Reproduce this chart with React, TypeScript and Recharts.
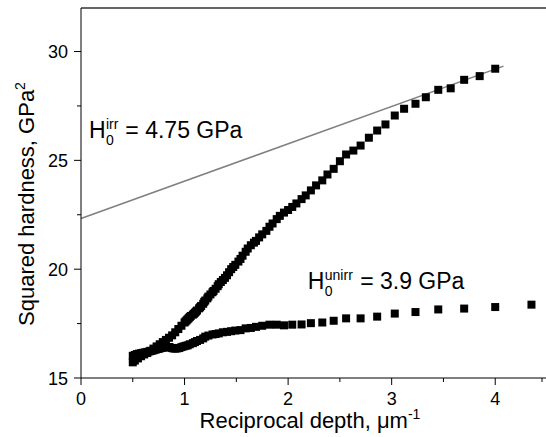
import { ScatterChart, Scatter, XAxis, YAxis, ReferenceLine, ReferenceDot } from 'recharts';

// Squared hardness vs reciprocal indentation depth (Nix–Gao plot), irradiated vs unirradiated.

const FONT = '"Liberation Sans", Arial, sans-serif';

const irrX = [
  4.0, 3.85, 3.7, 3.57, 3.45, 3.33, 3.23, 3.12, 3.03, 2.94,
  2.86, 2.78, 2.7, 2.63, 2.56, 2.5, 2.44, 2.38, 2.33, 2.27,
  2.22, 2.17, 2.13, 2.08, 2.04, 2.0, 1.96, 1.92, 1.89, 1.85,
  1.82, 1.79, 1.75, 1.72, 1.69, 1.67, 1.64, 1.61, 1.59, 1.56,
  1.54, 1.52, 1.49, 1.47, 1.45, 1.43, 1.41, 1.39, 1.37, 1.35,
  1.33, 1.32, 1.3, 1.28, 1.27, 1.25, 1.23, 1.22, 1.2, 1.19,
  1.18, 1.16, 1.15, 1.14, 1.12, 1.11, 1.1, 1.09, 1.08, 1.06,
  1.05, 1.04, 1.03, 1.02, 1.01, 1.0, 0.97, 0.94, 0.91, 0.88,
  0.85, 0.82, 0.79, 0.76, 0.73, 0.7, 0.67, 0.64, 0.61, 0.58,
  0.55, 0.52, 0.5,
];
const irrY = [
  29.21, 28.87, 28.7, 28.31, 28.24, 27.9, 27.6, 27.37, 27.06, 26.65,
  26.37, 26.04, 25.68, 25.45, 25.27, 24.96, 24.61, 24.35, 24.08, 23.85,
  23.62, 23.39, 23.22, 23.02, 22.86, 22.72, 22.6, 22.45, 22.3, 22.1,
  21.95, 21.76, 21.6, 21.46, 21.3, 21.22, 21.1, 20.95, 20.8, 20.62,
  20.47, 20.35, 20.2, 20.1, 20.0, 19.86, 19.72, 19.6, 19.5, 19.41,
  19.31, 19.22, 19.1, 19.0, 18.94, 18.84, 18.74, 18.66, 18.56, 18.5,
  18.41, 18.31, 18.25, 18.2, 18.1, 18.05, 18.0, 17.95, 17.91, 17.85,
  17.8, 17.75, 17.7, 17.65, 17.6, 17.55, 17.4, 17.25, 17.1, 16.96,
  16.85, 16.75, 16.65, 16.55, 16.45, 16.35, 16.25, 16.15, 16.08, 16.0,
  15.9, 15.8, 15.72,
];

const unirrX = [
  4.35, 4.0, 3.7, 3.45, 3.23, 3.03, 2.86, 2.7, 2.56, 2.44,
  2.33, 2.22, 2.13, 2.04, 1.96, 1.89, 1.82, 1.75, 1.69, 1.64,
  1.59, 1.54, 1.49, 1.45, 1.41, 1.37, 1.33, 1.3, 1.27, 1.23,
  1.2, 1.18, 1.15, 1.12, 1.1, 1.08, 1.05, 1.03, 1.01, 0.99,
  0.97, 0.95, 0.93, 0.91, 0.89, 0.88, 0.86, 0.85, 0.83, 0.82,
  0.8, 0.79, 0.78, 0.76, 0.75, 0.74, 0.72, 0.7, 0.68, 0.66,
  0.64, 0.62, 0.6, 0.58, 0.56, 0.54, 0.52, 0.5,
];
const unirrY = [
  18.37, 18.26, 18.19, 18.15, 18.03, 17.96, 17.82, 17.74, 17.74, 17.63,
  17.55, 17.52, 17.46, 17.45, 17.42, 17.45, 17.45, 17.4, 17.35, 17.3,
  17.28, 17.2, 17.18, 17.15, 17.12, 17.1, 17.05, 17.02, 17.0, 16.95,
  16.9, 16.82, 16.75, 16.7, 16.65, 16.6, 16.55, 16.5, 16.48, 16.45,
  16.42, 16.38, 16.36, 16.35, 16.36, 16.38, 16.4, 16.42, 16.42, 16.44,
  16.42, 16.4, 16.38, 16.36, 16.35, 16.33, 16.3, 16.27, 16.24, 16.22,
  16.2, 16.18, 16.16, 16.14, 16.12, 16.1, 16.06, 16.02,
];

// linear fit for the irradiated curve
const fitX = [0, 4.08];
const fitY = [22.33, 29.33];

const xTicks = [0, 0.5, 1, 1.5, 2, 2.5, 3, 3.5, 4, 4.5];
const yTicks = [15, 17.5, 20, 22.5, 25, 27.5, 30];

const toPoints = (xs: number[], ys: number[]) => xs.map((x, i) => ({ x, y: ys[i] }));
const irrData = toPoints(irrX, irrY);
const unirrData = toPoints(unirrX, unirrY);

const Square = (props: any) => (
  <rect x={props.cx - 4} y={props.cy - 4} width={8} height={8} fill="#000" />
);

const XTick = ({ x, y, payload }: any) => {
  const major = Number.isInteger(payload.value);
  return (
    <g>
      <line x1={x} x2={x} y1={y} y2={y + (major ? 7 : 4)} stroke="#000" />
      {major && (
        <text x={x} y={y + 27} textAnchor="middle" fontSize={18} fontFamily={FONT} fill="#000">
          {payload.value}
        </text>
      )}
    </g>
  );
};

const YTick = ({ x, y, payload }: any) => {
  const major = payload.value % 5 === 0;
  return (
    <g>
      <line x1={x} x2={x - (major ? 7 : 4)} y1={y} y2={y} stroke="#000" />
      {major && (
        <text x={x - 13} y={y + 6.5} textAnchor="end" fontSize={18} fontFamily={FONT} fill="#000">
          {payload.value}
        </text>
      )}
    </g>
  );
};

const XTitle = ({ viewBox }: any) => (
  <text x={viewBox.x + viewBox.width / 2 - 4} y={428} textAnchor="middle" fontSize={22} fontFamily={FONT} fill="#000">
    Reciprocal depth, μm
    <tspan dy={-9} fontSize={14}>-1</tspan>
  </text>
);

const YTitle = () => {
  const cx = 34;
  const cy = 204;
  return (
    <text x={cx} y={cy} transform={`rotate(-90, ${cx}, ${cy})`} textAnchor="middle" fontSize={22} fontFamily={FONT} fill="#000">
      Squared hardness, GPa
      <tspan dy={-9} fontSize={14}>2</tspan>
    </text>
  );
};

// H with stacked superscript/subscript, then the rest of the label
const Annot = (sup: string, supW: number, rest: string) => (props: any) => {
  const { cx, cy } = props;
  return (
    <g fontFamily={FONT} fill="#000">
      <text x={cx} y={cy} fontSize={23}>H</text>
      <text x={cx + 17} y={cy - 9} fontSize={14}>{sup}</text>
      <text x={cx + 17} y={cy + 7} fontSize={14}>0</text>
      <text x={cx + 17 + supW} y={cy} fontSize={23}>{rest}</text>
    </g>
  );
};

export default function App() {
  return (
    <div style={{ position: 'fixed', left: 0, top: 0, width: 546, height: 437, overflow: 'hidden', background: '#fff' }}>
      <ScatterChart width={552} height={437} margin={{ top: 8, right: 5, bottom: 0, left: 0 }}>
        <XAxis
          type="number"
          dataKey="x"
          domain={[0, 4.5]}
          ticks={xTicks}
          allowDataOverflow
          tickSize={0}
          tickMargin={0}
          tickLine={false}
          tick={<XTick />}
          axisLine={{ stroke: '#000' }}
          height={59}
          label={<XTitle />}
        />
        <YAxis
          type="number"
          dataKey="y"
          domain={[15, 32]}
          ticks={yTicks}
          allowDataOverflow
          tickSize={0}
          tickMargin={0}
          tickLine={false}
          tick={<YTick />}
          axisLine={{ stroke: '#000' }}
          width={81}
          label={<YTitle />}
        />
        <ReferenceLine y={32} stroke="#333" strokeWidth={1.5} />
        <Scatter data={unirrData} shape={<Square />} isAnimationActive={false} />
        <Scatter data={irrData} shape={<Square />} isAnimationActive={false} />
        <ReferenceLine
          segment={[{ x: fitX[0], y: fitY[0] }, { x: fitX[1], y: fitY[1] }]}
          stroke="#808080"
          strokeWidth={1.5}
        />
        <ReferenceDot x={0.077} y={26.01} r={0} shape={Annot('irr', 13, '\u00a0= 4.75 GPa')} />
        <ReferenceDot x={2.19} y={19.07} r={0} shape={Annot('unirr', 29, '\u00a0= 3.9 GPa')} />
      </ScatterChart>
    </div>
  );
}
